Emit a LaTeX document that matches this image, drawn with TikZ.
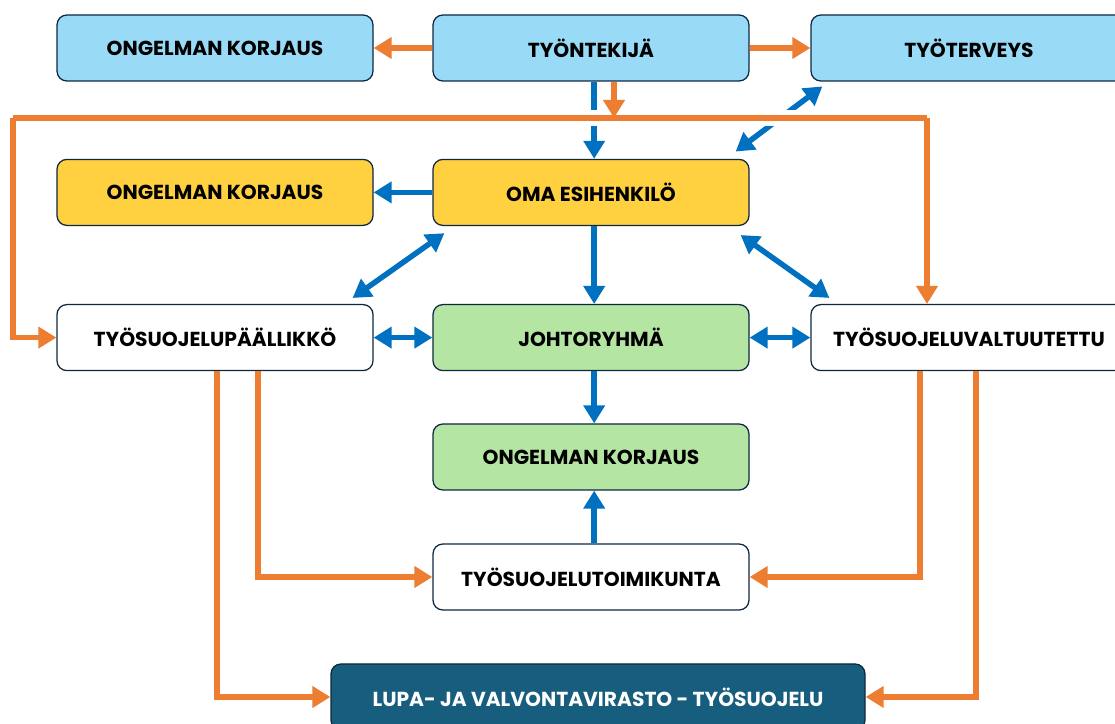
\documentclass[tikz,border=0pt]{standalone}
\usepackage{fontspec}
\setmainfont{Poppins}
\usepackage{tikz}
\usetikzlibrary{positioning,arrows.meta,calc}
\definecolor{lblue}{HTML}{99DBF7}
\definecolor{lyellow}{HTML}{FFD03F}
\definecolor{lgreen}{HTML}{B4E5A2}
\definecolor{dteal}{HTML}{175E7E}
\definecolor{frame}{HTML}{0E2841}
\definecolor{oarr}{HTML}{ED7D31}
\definecolor{barr}{HTML}{0070C0}
\tikzset{
box/.style={draw=frame, line width=0.9pt, rounded corners=7pt, minimum width=7.9cm, minimum height=1.65cm, align=center},
oline/.style={draw=oarr, line width=3.9pt},
barrow/.style={draw=barr, line width=3.9pt, -{Triangle[length=0.45cm,width=0.52cm]}},
bboth/.style={draw=barr, line width=3.9pt, {Triangle[length=0.45cm,width=0.52cm]}-{Triangle[length=0.45cm,width=0.52cm]}},
oarrow/.style={oline, -{Triangle[length=0.45cm,width=0.52cm]}}}
\tikzstyle{every node}=[font=\fontsize{14.4}{17}\selectfont\bfseries]

\begin{document}
\begin{tikzpicture}
        \useasboundingbox (0,0) rectangle (27.875,18.1);
        \clip (0,0) rectangle (27.875,18.1);
        \node[box, fill=lblue] (korjaus1) at (5.375,16.9) {ONGELMAN KORJAUS};
        \node[box, fill=lblue] (tyontekija) at (14.775,16.9) {TYÖNTEKIJÄ};
        \node[box, fill=lblue] (tyoterveys) at (24.225,16.9) {TYÖTERVEYS};
        \node[box, fill=lyellow] (korjaus2) at (5.375,13.29) {ONGELMAN KORJAUS};
        \node[box, fill=lyellow] (esihenkilo) at (14.775,13.29) {OMA ESIHENKILÖ};
        \node[box, fill=white] (tsp) at (5.375,9.66) {TYÖSUOJELUPÄÄLLIKKÖ};
        \node[box, fill=lgreen] (johto) at (14.775,9.66) {JOHTORYHMÄ};
        \node[box, fill=white] (tsv) at (24.225,9.66) {TYÖSUOJELUVALTUUTETTU};
        \node[box, fill=lgreen] (korjaus3) at (14.775,6.675) {ONGELMAN KORJAUS};
        \node[box, fill=white] (tst) at (14.775,3.675) {TYÖSUOJELUTOIMIKUNTA};
        \node[box, fill=dteal, text=white, minimum width=13.35cm] (lupa) at (14.95,0.675) {LUPA- JA VALVONTAVIRASTO - TYÖSUOJELU};
        \coordinate (split) at (15.35,15.15);
        \coordinate (vasen) at (0.325,15.15);
        \coordinate (oikea) at (23.175,15.15);
        \draw[barrow] ([xshift=0.08cm]tyontekija.south) -- ([xshift=0.08cm]esihenkilo.north);
        \draw[bboth] ([shift={(-0.35,0.18)}]esihenkilo.north east) -- ([shift={(0.3,-0.12)}]tyoterveys.south west);
        \draw[oline, preaction={draw=white, line width=11pt}] (vasen) -- (oikea);
        \draw[oarrow] (tyontekija.south -| split) -- (split);
        \draw[oarrow] (vasen) |- (tsp.west);
        \draw[oarrow] (oikea) -- (oikea |- tsv.north);
        \draw[oarrow] (tyontekija.west) -- (korjaus1.east);
        \draw[oarrow] (tyontekija.east) -- (tyoterveys.west);
        \draw[barrow] (esihenkilo.west) -- (korjaus2.east);
        \draw[bboth] ([shift={(0.3,-0.18)}]esihenkilo.south west) -- ([shift={(-0.525,0.15)}]tsp.north east);
        \draw[bboth] ([shift={(-0.225,-0.225)}]esihenkilo.south east) -- ([shift={(0.475,0.15)}]tsv.north west);
        \draw[barrow] ([xshift=0.08cm]esihenkilo.south) -- ([xshift=0.08cm]johto.north);
        \draw[bboth] (tsp.east) -- (johto.west);
        \draw[bboth] (johto.east) -- (tsv.west);
        \draw[barrow] ([xshift=0.08cm]johto.south) -- ([xshift=0.08cm]korjaus3.north);
        \draw[barrow] ([xshift=0.08cm]tst.north) -- ([xshift=0.08cm]korjaus3.south);
        \draw[oarrow] ([xshift=0.05cm]tsp.south) |- (lupa.west);
        \draw[oarrow] ([xshift=1.075cm]tsp.south) |- (tst.west);
        \draw[oarrow] ([xshift=-1.225cm]tsv.south) |- (tst.east);
        \draw[oarrow] ([xshift=0.175cm]tsv.south) |- (lupa.east);
    \end{tikzpicture}
\end{document}
